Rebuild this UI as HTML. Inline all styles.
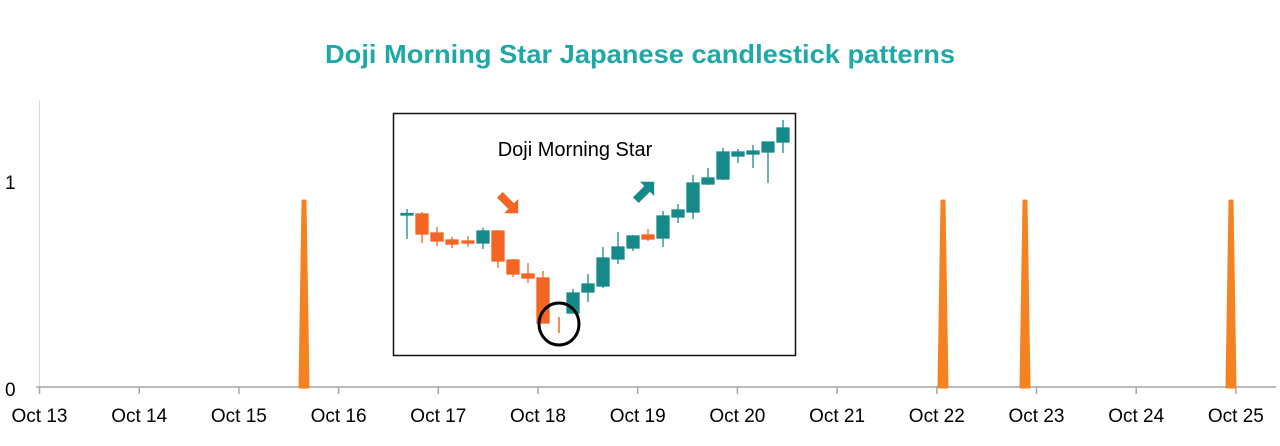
<!DOCTYPE html>
<html><head><meta charset="utf-8"><style>
html,body{margin:0;padding:0;background:#fff;}
svg{display:block;font-family:"Liberation Sans",sans-serif;}
</style></head><body>
<svg width="1280" height="446" viewBox="0 0 1280 446" xmlns="http://www.w3.org/2000/svg">
<text x="640" y="63" text-anchor="middle" font-size="26" font-weight="bold" fill="#1fa8a8" textLength="630" lengthAdjust="spacingAndGlyphs">Doji Morning Star Japanese candlestick patterns</text>
<line x1="39.5" y1="100" x2="39.5" y2="387" stroke="#d9d9d9" stroke-width="1"/>
<line x1="36" y1="387" x2="1276" y2="387" stroke="#a6a6a6" stroke-width="1.5"/>
<g stroke="#a6a6a6" stroke-width="1.5">
<line x1="39.5" y1="387" x2="39.5" y2="394"/><line x1="139.2" y1="387" x2="139.2" y2="394"/><line x1="238.9" y1="387" x2="238.9" y2="394"/><line x1="338.6" y1="387" x2="338.6" y2="394"/><line x1="438.3" y1="387" x2="438.3" y2="394"/><line x1="538" y1="387" x2="538" y2="394"/><line x1="637.7" y1="387" x2="637.7" y2="394"/><line x1="737.4" y1="387" x2="737.4" y2="394"/><line x1="837.1" y1="387" x2="837.1" y2="394"/><line x1="936.8" y1="387" x2="936.8" y2="394"/><line x1="1036.5" y1="387" x2="1036.5" y2="394"/><line x1="1136.2" y1="387" x2="1136.2" y2="394"/><line x1="1235.9" y1="387" x2="1235.9" y2="394"/>
</g>
<g font-size="19" fill="#000" text-anchor="middle">
<text x="39.5" y="422">Oct 13</text><text x="139.2" y="422">Oct 14</text><text x="238.9" y="422">Oct 15</text><text x="338.6" y="422">Oct 16</text><text x="438.3" y="422">Oct 17</text><text x="538" y="422">Oct 18</text><text x="637.7" y="422">Oct 19</text><text x="737.4" y="422">Oct 20</text><text x="837.1" y="422">Oct 21</text><text x="936.8" y="422">Oct 22</text><text x="1036.5" y="422">Oct 23</text><text x="1136.2" y="422">Oct 24</text><text x="1235.9" y="422">Oct 25</text>
</g>
<text x="5" y="189" font-size="19">1</text>
<text x="5" y="396" font-size="19">0</text>
<g fill="#f58220" stroke="#f58220" stroke-width="3" stroke-linejoin="round">
<polygon points="300,387 308,387 305,201 303,201"/>
<polygon points="939,387 947,387 944,201 942,201"/>
<polygon points="1021,387 1029,387 1026,201 1024,201"/>
<polygon points="1227,387 1235,387 1232,201 1230,201"/>
</g>
<rect x="393.5" y="113.5" width="402" height="242" fill="#fff" stroke="#111" stroke-width="1.5"/>
<text x="575" y="156" font-size="20" text-anchor="middle" fill="#000">Doji Morning Star</text>
<g stroke-width="1.3">
<g stroke="#1a8a8a" fill="#148a8a">
<line x1="407" y1="209" x2="407" y2="239"/><rect x="401" y="213.5" width="12" height="1.5"/>
<line x1="483" y1="228" x2="483" y2="249"/><rect x="477" y="231" width="12" height="12"/>
<line x1="573" y1="289" x2="573" y2="313"/><rect x="567" y="293" width="12" height="20"/>
<line x1="588" y1="274" x2="588" y2="302"/><rect x="582" y="284" width="12" height="8"/>
<line x1="603" y1="247" x2="603" y2="288"/><rect x="597" y="258" width="12" height="28"/>
<line x1="618" y1="232" x2="618" y2="264"/><rect x="612" y="247" width="12" height="12"/>
<line x1="633" y1="235" x2="633" y2="251"/><rect x="627" y="236" width="12" height="12"/>
<line x1="663" y1="211" x2="663" y2="247"/><rect x="657" y="216" width="12" height="22"/>
<line x1="678" y1="204" x2="678" y2="223"/><rect x="672" y="210" width="12" height="7"/>
<line x1="693" y1="175" x2="693" y2="219"/><rect x="687" y="183" width="12" height="29"/>
<line x1="708" y1="168" x2="708" y2="185"/><rect x="702" y="178" width="12" height="6"/>
<line x1="723" y1="148" x2="723" y2="180"/><rect x="717" y="152" width="12" height="27"/>
<line x1="738" y1="149" x2="738" y2="163"/><rect x="732" y="152" width="12" height="4"/>
<line x1="753" y1="145" x2="753" y2="168"/><rect x="747" y="151" width="12" height="3"/>
<line x1="768" y1="142" x2="768" y2="183"/><rect x="762" y="142" width="12" height="10"/>
<line x1="783" y1="120" x2="783" y2="153"/><rect x="777" y="128" width="12" height="14"/>
</g>
<g stroke="#f26522" fill="#f26522">
<line x1="422" y1="212" x2="422" y2="243"/><rect x="416" y="214" width="12" height="20"/>
<line x1="437" y1="227" x2="437" y2="246"/><rect x="431" y="233" width="12" height="8"/>
<line x1="452" y1="237" x2="452" y2="248"/><rect x="446" y="240" width="12" height="4"/>
<line x1="468" y1="236" x2="468" y2="247"/><rect x="462" y="241" width="12" height="2"/>
<line x1="498" y1="230" x2="498" y2="268"/><rect x="492" y="231" width="12" height="30"/>
<line x1="513" y1="259" x2="513" y2="277"/><rect x="507" y="260" width="12" height="14"/>
<line x1="528" y1="263" x2="528" y2="283"/><rect x="522" y="274" width="12" height="4"/>
<line x1="543" y1="271" x2="543" y2="323"/><rect x="537" y="278" width="12" height="45"/>
<line x1="648" y1="229" x2="648" y2="241"/><rect x="642" y="235" width="12" height="4"/>
<line x1="559" y1="317" x2="559" y2="333" stroke-width="1.5"/>
</g>
</g>
<ellipse cx="559" cy="324" rx="20" ry="21" fill="none" stroke="#000" stroke-width="3"/>
<g transform="translate(509,204) rotate(45)" fill="#f26522">
<polygon points="-13,-4 3,-4 3,-10 13,0 3,10 3,4 -13,4"/>
</g>
<g transform="translate(645,191) rotate(-45)" fill="#148a8a">
<polygon points="-13,-4 3,-4 3,-10 13,0 3,10 3,4 -13,4"/>
</g>
</svg>
</body></html>
